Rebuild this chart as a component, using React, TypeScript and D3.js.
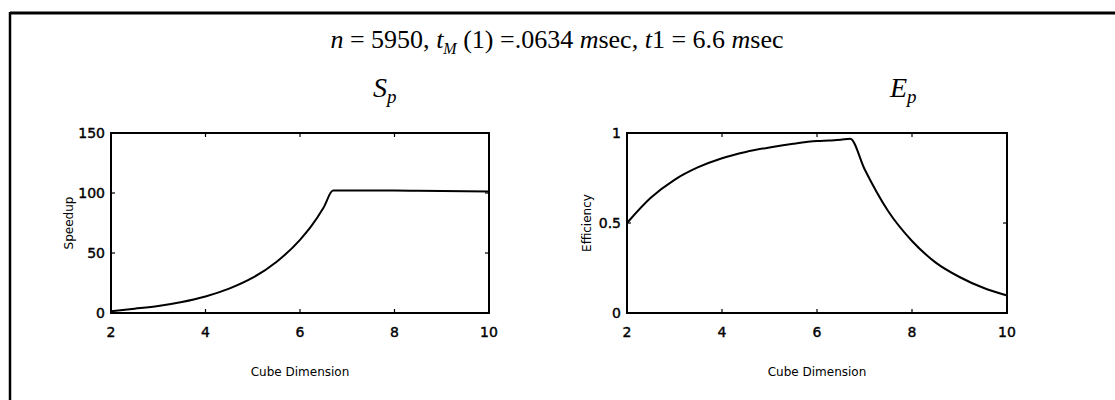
import React from "react";
import * as d3 from "d3";

// Cube dimension d (hypercube of 2^d processors)
const dims = [2, 2.5, 3, 3.5, 4, 4.5, 5, 5.5, 6, 6.25, 6.5, 6.7, 7, 7.5, 8, 8.5, 9, 9.5, 10];
// Speedup S_p
const speedup = [1.5, 3.6, 5.9, 9.2, 13.8, 20.3, 29.4, 42.5, 61, 73, 88, 102, 102, 102, 102, 101.8, 101.6, 101.4, 101.2];
// Efficiency E_p
const efficiency = [0.5, 0.64, 0.74, 0.81, 0.86, 0.895, 0.92, 0.94, 0.955, 0.958, 0.962, 0.968, 0.8, 0.565, 0.4, 0.28, 0.2, 0.14, 0.097];

const xTicks = [2, 4, 6, 8, 10];
const speedTicks = [0, 50, 100, 150];
const effTicks = [0, 0.5, 1];

const W = 1115;
const H = 400;
const sans = "'DejaVu Sans', 'Liberation Sans', Arial, sans-serif";
const serif = "'Liberation Serif', 'Times New Roman', serif";

type PanelProps = {
  left: number;
  right: number;
  top: number;
  bottom: number;
  yDomain: [number, number];
  yTicks: number[];
  yFmt: (v: number) => string;
  values: number[];
  yLabel: string;
  yLabelX: number;
};

function Panel(p: PanelProps) {
  const x = d3.scaleLinear().domain([2, 10]).range([p.left, p.right]);
  const y = d3.scaleLinear().domain(p.yDomain).range([p.bottom, p.top]);
  const line = d3
    .line<number>()
    .x((_, i) => x(dims[i]))
    .y((v) => y(v))
    .curve(d3.curveMonotoneX);
  const tl = 4;
  return (
    <g>
      <path d={line(p.values) ?? ""} fill="none" stroke="#000" strokeWidth={2} />
      <rect
        x={p.left}
        y={p.top}
        width={p.right - p.left}
        height={p.bottom - p.top}
        fill="none"
        stroke="#000"
        strokeWidth={2}
      />
      {xTicks.map((t) => (
        <g key={"x" + t}>
          <line x1={x(t)} x2={x(t)} y1={p.bottom} y2={p.bottom - tl} stroke="#000" strokeWidth={1.2} />
          <line x1={x(t)} x2={x(t)} y1={p.top} y2={p.top + tl} stroke="#000" strokeWidth={1.2} />
          <text
            x={x(t)}
            y={p.bottom + 24}
            textAnchor="middle"
            fontFamily={sans}
            fontSize={14}
            stroke="#000"
            strokeWidth={0.4}
          >
            {t}
          </text>
        </g>
      ))}
      {p.yTicks.map((t) => (
        <g key={"y" + t}>
          <line x1={p.left} x2={p.left + tl} y1={y(t)} y2={y(t)} stroke="#000" strokeWidth={1.2} />
          <line x1={p.right} x2={p.right - tl} y1={y(t)} y2={y(t)} stroke="#000" strokeWidth={1.2} />
          <text
            x={p.left - 6}
            y={y(t) + 5}
            textAnchor="end"
            fontFamily={sans}
            fontSize={14}
            stroke="#000"
            strokeWidth={0.4}
          >
            {p.yFmt(t)}
          </text>
        </g>
      ))}
      <text
        transform={`translate(${p.yLabelX},${(p.top + p.bottom) / 2}) rotate(-90)`}
        textAnchor="middle"
        fontFamily={sans}
        fontSize={12}
      >
        {p.yLabel}
      </text>
      <text
        x={(p.left + p.right) / 2}
        y={376}
        textAnchor="middle"
        fontFamily={sans}
        fontSize={12}
      >
        Cube Dimension
      </text>
    </g>
  );
}

export default function App() {
  return (
    <div style={{ position: "absolute", left: 0, top: 0 }}>
      <svg width={W} height={H} style={{ display: "block", background: "#fff" }}>
        {/* frame */}
        <line x1={10} x2={W} y1={13} y2={13} stroke="#000" strokeWidth={3} />
        <line x1={10} x2={10} y1={12} y2={H} stroke="#000" strokeWidth={2.5} />

        <text x={557} y={48} textAnchor="middle" fontFamily={serif} fontSize={26}>
          <tspan fontStyle="italic">n</tspan>
          <tspan> = 5950, </tspan>
          <tspan fontStyle="italic">t</tspan>
          <tspan fontStyle="italic" fontSize={16} dy={6}>M</tspan>
          <tspan dy={-6}> (1) =.0634 </tspan>
          <tspan fontStyle="italic">m</tspan>
          <tspan>sec, </tspan>
          <tspan fontStyle="italic">t</tspan>
          <tspan>1 = 6.6 </tspan>
          <tspan fontStyle="italic">m</tspan>
          <tspan>sec</tspan>
        </text>

        <text x={373} y={97} fontFamily={serif} fontSize={28} fontStyle="italic">
          <tspan>S</tspan>
          <tspan fontSize={19} dy={6}>p</tspan>
        </text>
        <text x={890} y={97} fontFamily={serif} fontSize={28} fontStyle="italic">
          <tspan>E</tspan>
          <tspan fontSize={19} dy={6}>p</tspan>
        </text>

        <Panel
          left={111}
          right={489}
          top={133}
          bottom={313}
          yDomain={[0, 150]}
          yTicks={speedTicks}
          yFmt={(v) => String(v)}
          values={speedup}
          yLabel="Speedup"
          yLabelX={73}
        />
        <Panel
          left={627}
          right={1007}
          top={133}
          bottom={313}
          yDomain={[0, 1]}
          yTicks={effTicks}
          yFmt={(v) => (v === 0.5 ? "0.5" : String(v))}
          values={efficiency}
          yLabel="Efficiency"
          yLabelX={591}
        />
      </svg>
    </div>
  );
}
